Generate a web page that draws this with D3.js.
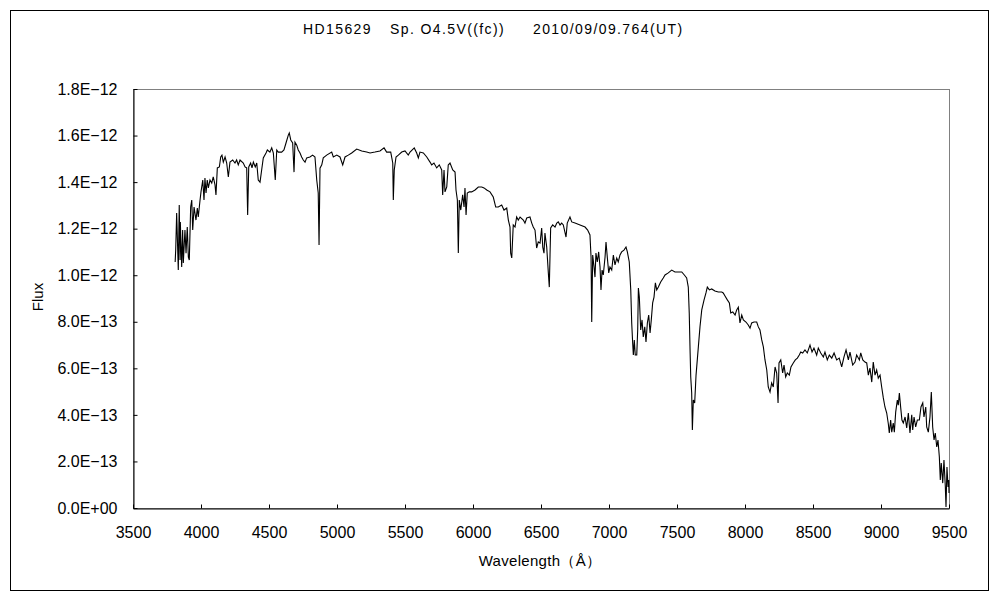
<!DOCTYPE html>
<html>
<head>
<meta charset="utf-8" />
<title>HD15629 spectrum</title>
<script src="https://d3js.org/d3.v7.min.js"></script>
<style>
  body { margin: 0; background: #fff; }
  text { font-family: "Liberation Sans", Arial, sans-serif; fill: #000; }
</style>
</head>
<body>
<svg id="chart" width="1000" height="600"></svg>
<script>

// spectrum: wavelength (Å) and flux (in units of 1E-12)
var wavelength = [
  3810, 3814, 3821, 3833, 3840, 3846, 3848, 3858, 3865, 3870, 3882, 3890, 3899, 3907, 3914, 3924,
  3932, 3939, 3949, 3963, 3973, 3980, 3993, 4000, 4013, 4022, 4029, 4037, 4046, 4054, 4066, 4079,
  4090, 4103, 4110, 4120, 4135, 4145, 4154, 4164, 4177, 4189, 4201, 4213, 4233, 4250, 4262, 4274,
  4287, 4311, 4324, 4336, 4343, 4351, 4365, 4375, 4385, 4399, 4410, 4421, 4434, 4446, 4458, 4478,
  4488, 4507, 4520, 4532, 4546, 4557, 4568, 4593, 4610, 4625, 4642, 4649, 4660, 4674, 4684, 4691,
  4704, 4715, 4728, 4740, 4752, 4765, 4777, 4801, 4821, 4838, 4851, 4862, 4868, 4875, 4888, 4899,
  4924, 4961, 4973, 4998, 5022, 5042, 5059, 5083, 5108, 5145, 5182, 5218, 5243, 5279, 5316, 5346,
  5365, 5395, 5410, 5414, 5421, 5434, 5451, 5476, 5500, 5524, 5537, 5568, 5586, 5598, 5610, 5635,
  5660, 5684, 5696, 5713, 5733, 5752, 5770, 5777, 5787, 5794, 5807, 5818, 5831, 5851, 5868, 5875,
  5885, 5892, 5899, 5910, 5924, 5934, 5941, 5949, 5958, 5973, 5990, 6015, 6039, 6064, 6081, 6101,
  6125, 6149, 6167, 6186, 6211, 6228, 6248, 6260, 6272, 6277, 6285, 6296, 6309, 6321, 6333, 6346,
  6370, 6382, 6395, 6419, 6432, 6443, 6456, 6468, 6480, 6493, 6505, 6513, 6522, 6529, 6542, 6554,
  6561, 6571, 6586, 6603, 6616, 6627, 6640, 6652, 6664, 6684, 6693, 6713, 6726, 6750, 6787, 6824,
  6843, 6860, 6868, 6873, 6880, 6890, 6897, 6904, 6914, 6924, 6934, 6941, 6949, 6958, 6971, 6978,
  6988, 6998, 7007, 7020, 7032, 7044, 7057, 7068, 7081, 7093, 7110, 7125, 7135, 7149, 7160, 7167,
  7174, 7179, 7186, 7193, 7204, 7211, 7216, 7223, 7233, 7243, 7252, 7263, 7272, 7282, 7292, 7302,
  7311, 7321, 7331, 7341, 7351, 7363, 7380, 7399, 7412, 7436, 7461, 7485, 7510, 7535, 7554, 7571,
  7583, 7590, 7596, 7601, 7608, 7613, 7620, 7630, 7640, 7657, 7669, 7682, 7699, 7713, 7723, 7738,
  7755, 7779, 7804, 7829, 7840, 7853, 7870, 7885, 7895, 7910, 7927, 7939, 7951, 7963, 7976, 7988,
  8007, 8024, 8037, 8049, 8066, 8086, 8098, 8110, 8123, 8135, 8147, 8160, 8171, 8184, 8196, 8208,
  8221, 8233, 8243, 8250, 8263, 8277, 8287, 8299, 8311, 8326, 8338, 8355, 8370, 8385, 8399, 8410,
  8424, 8441, 8458, 8478, 8493, 8507, 8527, 8539, 8557, 8576, 8588, 8605, 8620, 8638, 8655, 8674,
  8693, 8711, 8728, 8743, 8760, 8772, 8792, 8809, 8821, 8841, 8851, 8866, 8882, 8895, 8907, 8919,
  8932, 8943, 8956, 8968, 8980, 8993, 9005, 9017, 9029, 9042, 9054, 9061, 9071, 9079, 9090, 9098,
  9108, 9120, 9127, 9135, 9145, 9154, 9164, 9177, 9189, 9201, 9213, 9226, 9233, 9243, 9255, 9267,
  9282, 9294, 9307, 9316, 9329, 9336, 9348, 9360, 9370, 9380, 9390, 9399, 9410, 9419, 9429, 9436,
  9443, 9454, 9463, 9473, 9478, 9485, 9493, 9498, 9500
];

var flux = [
  1.057, 1.108, 1.267, 1.022, 1.302, 1.065, 1.229, 1.035, 1.194, 1.053, 1.194, 1.095, 1.207, 1.078, 1.065, 1.293,
  1.323, 1.194, 1.293, 1.237, 1.289, 1.250, 1.323, 1.358, 1.409, 1.323, 1.418, 1.353, 1.409, 1.375, 1.409, 1.396,
  1.422, 1.388, 1.345, 1.461, 1.465, 1.508, 1.516, 1.486, 1.508, 1.482, 1.422, 1.486, 1.495, 1.482, 1.495, 1.474,
  1.495, 1.482, 1.465, 1.461, 1.259, 1.465, 1.482, 1.461, 1.486, 1.465, 1.482, 1.409, 1.400, 1.452, 1.504, 1.525,
  1.538, 1.529, 1.547, 1.525, 1.409, 1.538, 1.529, 1.529, 1.538, 1.568, 1.602, 1.611, 1.581, 1.568, 1.443, 1.572,
  1.559, 1.538, 1.525, 1.508, 1.495, 1.486, 1.504, 1.508, 1.516, 1.508, 1.409, 1.353, 1.130, 1.460, 1.474, 1.504,
  1.516, 1.529, 1.508, 1.516, 1.508, 1.474, 1.508, 1.516, 1.525, 1.542, 1.534, 1.529, 1.525, 1.529, 1.534, 1.547,
  1.529, 1.529, 1.482, 1.323, 1.452, 1.508, 1.516, 1.529, 1.534, 1.516, 1.529, 1.547, 1.525, 1.504, 1.529, 1.525,
  1.508, 1.486, 1.474, 1.482, 1.461, 1.474, 1.452, 1.345, 1.452, 1.358, 1.379, 1.474, 1.482, 1.452, 1.443, 1.366,
  1.323, 1.095, 1.323, 1.280, 1.345, 1.293, 1.375, 1.259, 1.353, 1.358, 1.358, 1.366, 1.379, 1.379, 1.375, 1.366,
  1.358, 1.336, 1.293, 1.293, 1.302, 1.280, 1.289, 1.237, 1.207, 1.095, 1.074, 1.216, 1.207, 1.250, 1.237, 1.250,
  1.237, 1.224, 1.246, 1.250, 1.224, 1.207, 1.194, 1.117, 1.143, 1.138, 1.203, 1.121, 1.095, 1.181, 1.121, 1.010,
  0.949, 1.203, 1.216, 1.207, 1.224, 1.229, 1.216, 1.224, 1.216, 1.164, 1.224, 1.250, 1.229, 1.224, 1.216, 1.207,
  1.194, 1.173, 1.078, 0.799, 1.087, 1.035, 0.992, 1.095, 1.057, 1.100, 1.035, 0.937, 1.022, 1.001, 1.078, 1.143,
  1.074, 1.010, 1.035, 1.022, 1.087, 1.044, 1.074, 1.057, 1.087, 1.100, 1.108, 1.121, 1.100, 1.057, 0.937, 0.795,
  0.709, 0.657, 0.722, 0.657, 0.657, 0.765, 0.945, 0.906, 0.765, 0.808, 0.735, 0.778, 0.713, 0.795, 0.829, 0.752,
  0.808, 0.881, 0.906, 0.967, 0.937, 0.949, 0.971, 0.988, 1.001, 1.010, 1.022, 1.014, 1.014, 1.014, 1.001, 0.988,
  0.949, 0.838, 0.679, 0.563, 0.494, 0.335, 0.464, 0.451, 0.571, 0.692, 0.778, 0.851, 0.894, 0.924, 0.949, 0.937,
  0.941, 0.932, 0.928, 0.928, 0.924, 0.911, 0.894, 0.881, 0.838, 0.842, 0.829, 0.851, 0.863, 0.795, 0.829, 0.808,
  0.799, 0.786, 0.773, 0.795, 0.799, 0.799, 0.778, 0.765, 0.722, 0.692, 0.636, 0.593, 0.520, 0.498, 0.537, 0.520,
  0.606, 0.580, 0.451, 0.623, 0.636, 0.580, 0.614, 0.563, 0.580, 0.571, 0.606, 0.623, 0.636, 0.644, 0.657, 0.670,
  0.666, 0.679, 0.666, 0.700, 0.670, 0.687, 0.657, 0.687, 0.666, 0.649, 0.670, 0.636, 0.657, 0.644, 0.666, 0.636,
  0.644, 0.606, 0.649, 0.679, 0.636, 0.670, 0.614, 0.627, 0.657, 0.636, 0.666, 0.636, 0.627, 0.623, 0.571, 0.601,
  0.541, 0.627, 0.571, 0.593, 0.558, 0.571, 0.520, 0.473, 0.434, 0.408, 0.361, 0.322, 0.378, 0.326, 0.365, 0.326,
  0.412, 0.464, 0.442, 0.494, 0.430, 0.378, 0.365, 0.391, 0.344, 0.408, 0.322, 0.400, 0.335, 0.391, 0.348, 0.378,
  0.378, 0.434, 0.451, 0.391, 0.434, 0.348, 0.326, 0.391, 0.498, 0.348, 0.292, 0.322, 0.262, 0.292, 0.219, 0.120,
  0.193, 0.107, 0.206, 0.090, 0.004, 0.176, 0.090, 0.120, 0.064
];

var FLUX_UNIT = 1e-12;
var xTicks = [3500, 4000, 4500, 5000, 5500, 6000, 6500, 7000, 7500, 8000, 8500, 9000, 9500];
var yTicks = [0, 0.2e-12, 0.4e-12, 0.6e-12, 0.8e-12, 1.0e-12, 1.2e-12, 1.4e-12, 1.6e-12, 1.8e-12];

var titleParts = ["HD15629", "Sp. O4.5V((fc))", "2010/09/09.764(UT)"];
var xTitle = "Wavelength（Å）";
var yTitle = "Flux";

var svg = d3.select("#chart");
var plotLeft = 133, plotRight = 949, plotTop = 89, plotBottom = 508;

// outer frame
svg.append("rect")
  .attr("x", 10.5).attr("y", 10.5)
  .attr("width", 978).attr("height", 580)
  .attr("fill", "white")
  .attr("stroke", "black")
  .attr("stroke-width", 1);

var x = d3.scaleLinear().domain([3500, 9500]).range([plotLeft, plotRight]);
var y = d3.scaleLinear().domain([0, 1.8e-12]).range([plotBottom, plotTop]);

// plot area border (grey top/right)
svg.append("rect")
  .attr("x", plotLeft + 0.5).attr("y", plotTop + 0.5)
  .attr("width", plotRight - plotLeft).attr("height", plotBottom - plotTop)
  .attr("fill", "none")
  .attr("stroke", "#808080");

// exponent labels like Excel: 1.8E-12, 0.0E+00
function sci(v) {
  var s = v.toExponential(1).split("e");
  var exp = parseInt(s[1], 10);
  var sign = exp < 0 ? "−" : "+";
  var e = String(Math.abs(exp));
  if (e.length < 2) e = "0" + e;
  return s[0] + "E" + sign + e;
}

svg.append("g")
  .attr("transform", "translate(" + (plotLeft + 0.5) + ",0)")
  .call(d3.axisLeft(y).tickValues(yTicks).tickFormat(sci)
    .tickSizeInner(-4).tickSizeOuter(0).tickPadding(16));

svg.append("g")
  .attr("transform", "translate(0," + (plotBottom + 0.5) + ")")
  .call(d3.axisBottom(x).tickValues(xTicks).tickFormat(d3.format("d"))
    .tickSizeInner(-4).tickSizeOuter(0).tickPadding(18));

svg.selectAll(".domain").attr("stroke", "black");
svg.selectAll(".tick line").attr("stroke", "black");
svg.selectAll(".tick text")
  .attr("font-family", "Liberation Sans, Arial, sans-serif")
  .attr("font-size", 16)
  .attr("fill", "black");

// spectrum
var points = wavelength.map(function(w, i) {
  return { w: w, f: flux[i] * FLUX_UNIT };
});

var line = d3.line()
  .x(function(d) { return x(d.w); })
  .y(function(d) { return y(d.f); });

svg.append("path")
  .datum(points)
  .attr("fill", "none")
  .attr("stroke", "black")
  .attr("stroke-width", 1.1)
  .attr("d", line);

// title
var titleX = [303, 390, 533];
svg.selectAll(".title").data(titleParts).enter().append("text")
  .attr("class", "title")
  .attr("x", function(d, i) { return titleX[i]; })
  .attr("y", 34)
  .attr("font-size", 14)
  .attr("letter-spacing", 1.4)
  .text(function(d) { return d; });

svg.append("text")
  .attr("x", 540)
  .attr("y", 566)
  .attr("text-anchor", "middle")
  .attr("font-size", 15)
  .attr("letter-spacing", 0.3)
  .text(xTitle);

svg.append("text")
  .attr("transform", "translate(43,297) rotate(-90)")
  .attr("text-anchor", "middle")
  .attr("font-size", 15)
  .text(yTitle);

</script>
</body>
</html>
